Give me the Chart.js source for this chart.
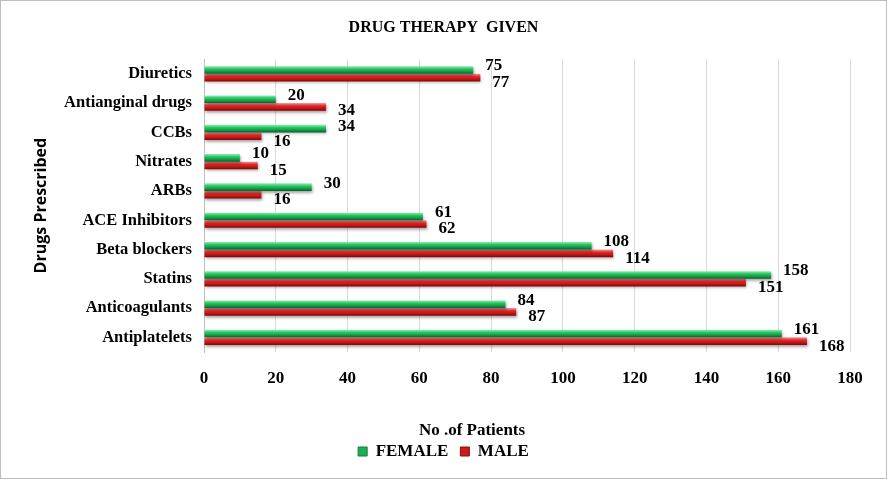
<!DOCTYPE html>
<html>
<head>
<meta charset="utf-8">
<script src="https://cdn.jsdelivr.net/npm/chart.js@4"></script>
<style>
  html, body { margin: 0; padding: 0; background: #fff; }
  #wrap { width: 887px; height: 479px; border: 1px solid #bdbdbd; box-sizing: border-box; }
</style>
</head>
<body>
<div id="wrap"><canvas id="drugChart"></canvas></div>
<script>
const drugs = ['Diuretics', 'Antianginal drugs', 'CCBs', 'Nitrates', 'ARBs', 'ACE Inhibitors', 'Beta blockers', 'Statins', 'Anticoagulants', 'Antiplatelets'];
const femaleCounts = [75, 20, 34, 10, 30, 61, 108, 158, 84, 161];
const maleCounts = [77, 34, 16, 15, 16, 62, 114, 151, 87, 168];
const xTicks = [0, 20, 40, 60, 80, 100, 120, 140, 160, 180];

const serif = "'Liberation Serif', 'Times New Roman', serif";
const CAT_PCT = 0.52;

// bars get a top-lit vertical gradient, worked out from the scale
function barGradient(stops, flat) {
  return (c) => {
    const chart = c.chart;
    const y = chart.scales && chart.scales.y;
    if (!y || c.type !== 'data') return flat;
    const band = (y.bottom - y.top) / drugs.length;
    const h = band * CAT_PCT / 2;
    const mid = y.getPixelForValue(c.dataIndex) + (c.datasetIndex === 0 ? -h / 2 : h / 2);
    const g = chart.ctx.createLinearGradient(0, mid - h / 2, 0, mid + h / 2);
    g.addColorStop(0, stops[0]);
    g.addColorStop(0.35, stops[1]);
    g.addColorStop(0.7, stops[2]);
    g.addColorStop(1, stops[3]);
    return g;
  };
}

const decorPlugin = {
  id: 'decor',
  beforeDatasetsDraw(chart) {
    const ctx = chart.ctx;
    ctx.save();
    ctx.shadowColor = 'rgba(0,0,0,0.35)';
    ctx.shadowBlur = 3;
    ctx.shadowOffsetX = 1;
    ctx.shadowOffsetY = 2;
  },
  afterDatasetsDraw(chart) {
    chart.ctx.restore();
    // value labels, nudged apart where two would collide
    const ctx = chart.ctx;
    ctx.save();
    ctx.font = 'bold 17px ' + serif;
    ctx.fillStyle = '#000';
    ctx.textAlign = 'left';
    ctx.textBaseline = 'middle';
    const labels = [];
    drugs.forEach((_, i) => {
      chart.data.datasets.forEach((ds, di) => {
        const bar = chart.getDatasetMeta(di).data[i];
        const text = String(ds.data[i]);
        labels.push({ text, x: bar.x + 12, y: bar.y + (di === 0 ? -4 : 5), w: ctx.measureText(text).width });
      });
    });
    const minGap = 16;
    for (let k = 1; k < labels.length; k++) {
      const a = labels[k - 1], b = labels[k];
      const overlapX = a.x < b.x + b.w && b.x < a.x + a.w;
      const gap = b.y - a.y;
      if (overlapX && gap < minGap) {
        const push = (minGap - gap) / 2;
        a.y -= push;
        b.y += push;
      }
    }
    labels.forEach((l) => ctx.fillText(l.text, l.x, l.y));
    ctx.restore();
  },
  afterDraw(chart) {
    // x axis title sits left of the plot centre in the original
    const ctx = chart.ctx;
    ctx.save();
    ctx.font = 'bold 17px ' + serif;
    ctx.fillStyle = '#000';
    ctx.textAlign = 'center';
    ctx.textBaseline = 'middle';
    ctx.fillText('No .of Patients', 471, 430);
    ctx.restore();
  }
};

new Chart(document.getElementById('drugChart').getContext('2d'), {
  type: 'bar',
  data: {
    labels: drugs,
    datasets: [
      {
        label: 'FEMALE',
        data: femaleCounts,
        backgroundColor: barGradient(['#8ff0b0', '#2cc565', '#119a44', '#0b5e2b'], '#1fae55'),
        borderWidth: 0,
        barPercentage: 1,
        categoryPercentage: CAT_PCT,
      },
      {
        label: 'MALE',
        data: maleCounts,
        backgroundColor: barGradient(['#f59a9a', '#e02a2a', '#c01414', '#7a0808'], '#cc1a1a'),
        borderWidth: 0,
        barPercentage: 1,
        categoryPercentage: CAT_PCT,
      },
    ],
  },
  options: {
    indexAxis: 'y',
    responsive: true,
    maintainAspectRatio: false,
    animation: false,
    layout: { padding: { left: 0, right: 0, top: 0, bottom: 8 } },
    plugins: {
      title: {
        display: true,
        text: 'DRUG THERAPY  GIVEN',
        color: '#000',
        font: { family: serif, size: 16, weight: 'bold' },
        padding: { top: 17, bottom: 22 },
      },
      legend: {
        position: 'bottom',
        labels: {
          color: '#000',
          font: { family: serif, size: 17, weight: 'bold' },
          boxWidth: 9,
          boxHeight: 9,
          padding: 12,
          generateLabels: () => [
            { text: 'FEMALE', fillStyle: '#1fae55', strokeStyle: '#117a3a', lineWidth: 1, datasetIndex: 0 },
            { text: 'MALE', fillStyle: '#cc1a1a', strokeStyle: '#8a0a0a', lineWidth: 1, datasetIndex: 1 },
          ],
        },
      },
      tooltip: { enabled: false },
    },
    scales: {
      x: {
        min: 0,
        max: 180,
        afterBuildTicks: (scale) => { scale.ticks = xTicks.map((v) => ({ value: v })); },
        afterFit: (scale) => { scale.height = 79; },
        grid: { color: '#d9d9d9', drawTicks: false },
        border: { display: false },
        ticks: {
          color: '#000',
          padding: 16,
          font: { family: serif, size: 17, weight: 'bold' },
        },
      },
      y: {
        afterFit: (scale) => { scale.width = 203; },
        grid: { display: false, drawTicks: false },
        border: { display: true, color: '#bfbfbf' },
        ticks: {
          color: '#000',
          padding: 12,
          font: { family: serif, size: 16.5, weight: 'bold' },
        },
        title: {
          display: true,
          text: 'Drugs Prescribed',
          color: '#000',
          font: { family: "'Open Sans', sans-serif", size: 16, weight: 'bold' },
          padding: { top: 31, bottom: 0 },
        },
      },
      // empty strip on the right so the title and legend centre on the page
      yRight: {
        type: 'category',
        position: 'right',
        afterFit: (scale) => { scale.width = 36; },
        grid: { display: false, drawTicks: false },
        border: { display: false },
        ticks: { display: false },
      },
    },
  },
  plugins: [decorPlugin],
});
</script>
</body>
</html>
